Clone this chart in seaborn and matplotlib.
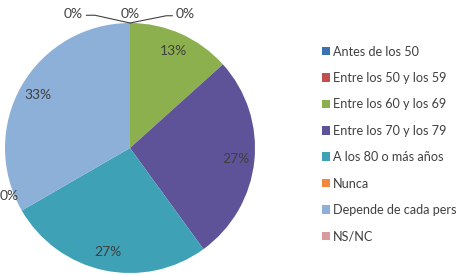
import numpy as np
import matplotlib
matplotlib.use("Agg")
import matplotlib.pyplot as plt
import seaborn as sns
from matplotlib.patches import Patch

# datos (conteos, 15 respuestas)
categorias = ["Antes de los 50", "Entre los 50 y los 59", "Entre los 60 y los 69",
              "Entre los 70 y los 79", "A los 80 o más años", "Nunca",
              "Depende de cada pers", "NS/NC"]
conteos = [0, 0, 2, 4, 4, 0, 5, 0]
colores = ["#3B70B2", "#C0504D", "#8DB04F", "#5E5398",
           "#3EA1B6", "#F0883E", "#8DB0D8", "#D99A9E"]

sns.set_theme(style="white")
plt.rcParams['font.family'] = ['Lato', 'DejaVu Sans']

fig = plt.figure(figsize=(4.58, 2.77), dpi=100)
ax = fig.add_axes([5/458, 4/277, 250/458, 250/277])

gris = "#404040"
wedges, textos, autotextos = ax.pie(
    conteos, colors=colores, startangle=90, counterclock=False,
    autopct=lambda p: f"{p:.0f}%" if p > 0 else "",
    pctdistance=0.85, wedgeprops=dict(linewidth=0),
    textprops=dict(color=gris, fontsize=10))
ax.set_xlim(-1.0, 1.0)
ax.set_ylim(-1.0, 1.0)
ax.set_aspect("equal")

# etiquetas de 0% fuera del pastel
pos_cero = {0: (-0.456, 1.075), 1: (0.44, 1.075), 7: (0.0, 1.075), 5: (-0.97, -0.384)}
for i, (tx, ty) in pos_cero.items():
    ax.text(tx, ty, "0%", ha="center", va="center", color=gris, fontsize=10, clip_on=False)

# lineas guia
ax.plot([-0.35, -0.28, 0.0], [1.062, 1.062, 1.0], color=gris, lw=0.8, clip_on=False)
ax.plot([0.0, 0.29, 0.34], [1.0, 1.058, 1.058], color=gris, lw=0.8, clip_on=False)

handles = [Patch(facecolor=c, edgecolor="none") for c in colores]
fig.legend(handles, categorias, loc="upper left", bbox_to_anchor=(322/458, 1 - 45.5/277),
           frameon=False, fontsize=9.1, handlelength=0.65, handleheight=0.65,
           handletextpad=0.25, labelspacing=1.14, borderpad=0, borderaxespad=0,
           labelcolor=gris)

fig.savefig("out.png", dpi=100)
